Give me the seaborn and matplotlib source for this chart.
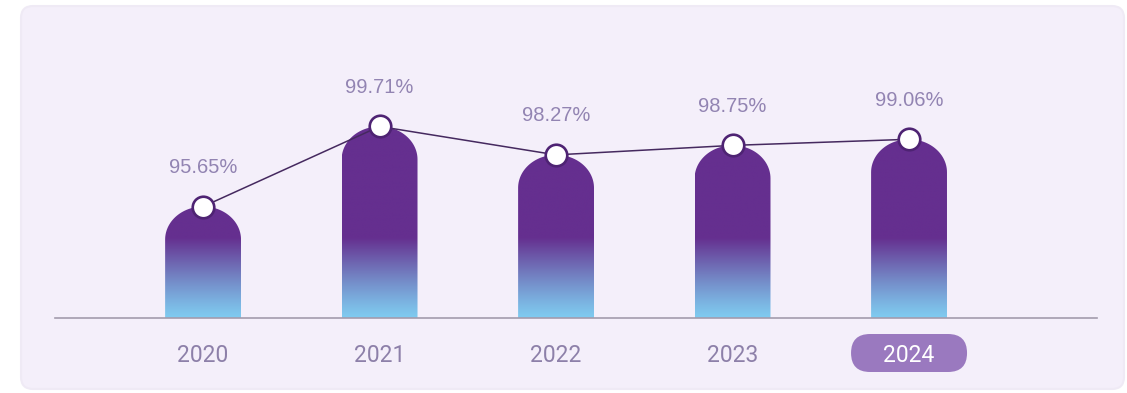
import numpy as np
import matplotlib
matplotlib.use("Agg")
import matplotlib.pyplot as plt
import seaborn as sns
from matplotlib.path import Path
from matplotlib.patches import PathPatch, FancyBboxPatch
from matplotlib.colors import to_rgb

# ---- data ----
years = ["2020", "2021", "2022", "2023", "2024"]
rates = [95.65, 99.71, 98.27, 98.75, 99.06]
highlight_year = "2024"

# ---- style ----
W, H = 1127, 393
PANEL = "#f4effa"
PURPLE = "#652f8f"
BLUE = "#7fcbf0"
LABEL_C = "#9284b2"
TICK_C = "#8d80a9"

sns.set_theme(style="white")
plt.rcParams["font.family"] = ["Liberation Sans", "DejaVu Sans"]

fig = plt.figure(figsize=(W / 100, H / 100), dpi=100)
fig.patch.set_facecolor("white")

# rounded card behind the chart
card = FancyBboxPatch((0.21, 0.04), 11.03, 3.83,
                      boxstyle="round,pad=0,rounding_size=0.12",
                      transform=fig.dpi_scale_trans, fc=PANEL, ec="#efeaf5",
                      lw=1.5, zorder=-2)
fig.patches.append(card)

ax_h_px = 288
ax = fig.add_axes([55 / W, 75 / H, 1042 / W, ax_h_px / H])
ax.patch.set_alpha(0)
ax.set_zorder(1)

y0, y1 = 90.0, 104.6
bar_w = 0.43
sns.barplot(x=years, y=rates, ax=ax, width=bar_w, color=PURPLE,
            saturation=1, zorder=1)
ax.set_xlim(-0.839, 5.065)
ax.set_ylim(y0, y1)

px_per_unit = ax_h_px / (y1 - y0)
dome_px = 33  # height of the rounded cap in pixels
ramp_px = 80  # height of the colour ramp at the foot of each bar

top_rgb = np.array(to_rgb(PURPLE))
bot_rgb = np.array(to_rgb(BLUE))

for patch in list(ax.patches):
    x0 = patch.get_x()
    w = patch.get_width()
    top = patch.get_height()
    patch.set_visible(False)
    xc = x0 + w / 2
    dome = dome_px / px_per_unit
    # rounded-top bar outline
    theta = np.linspace(np.pi, 0, 60)
    arc_x = xc + (w / 2) * np.cos(theta)
    arc_y = (top - dome) + dome * np.sin(theta)
    verts = [(x0, y0)] + list(zip(arc_x, arc_y)) + [(x0 + w, y0), (x0, y0)]
    codes = [Path.MOVETO] + [Path.LINETO] * (len(verts) - 2) + [Path.CLOSEPOLY]
    shape = PathPatch(Path(verts, codes), fc="none", ec="none")
    ax.add_patch(shape)
    # vertical gradient clipped to the outline
    ys = np.linspace(y0, top, 300)
    t = np.clip((ys - y0) * px_per_unit / ramp_px, 0, 1)
    t = t ** 1.15
    cols = bot_rgb[None, :] * (1 - t[:, None]) + top_rgb[None, :] * t[:, None]
    img = ax.imshow(cols[:, None, :], extent=[x0, x0 + w, y0, top],
                    origin="lower", aspect="auto", zorder=2,
                    interpolation="bilinear")
    img.set_clip_path(shape)

ax.set_xlim(-0.839, 5.065)
ax.set_ylim(y0, y1)

# trend line with markers on the bar tops
xs = np.arange(len(years))
ax.plot(xs, rates, color="#45295f", lw=1.1, zorder=3)
ax.plot(xs, rates, ls="none", marker="o", ms=15.5, mfc="white",
        mec="#4e2373", mew=1.9, zorder=4)

for x, r in zip(xs, rates):
    ax.annotate(f"{r:.2f}%", (x, r), xytext=(0, 39), textcoords="offset pixels",
                ha="center", va="center", fontsize=14.5, color=LABEL_C)

# axes cosmetics
for s in ["top", "right", "left"]:
    ax.spines[s].set_visible(False)
ax.spines["bottom"].set_color("#a39cad")
ax.spines["bottom"].set_linewidth(1.2)
ax.set_yticks([])
ax.set_xlabel("")
ax.set_ylabel("")
ax.tick_params(axis="x", length=0, pad=18.5)
for lab in ax.get_xticklabels():
    lab.set_fontfamily(["Roboto", "DejaVu Sans"])
    lab.set_fontsize(16.5)
    lab.set_color(TICK_C)
    if lab.get_text() == highlight_year:
        lab.set_color("white")

# pill behind the highlighted year
fig.canvas.draw()
hi = years.index(highlight_year)
xc_px = ax.transData.transform((hi, y0))[0]
pill_w, pill_h = 116, 38
pill_cy = 393 - 353
pill = FancyBboxPatch(((xc_px - pill_w / 2) / 100, (pill_cy - pill_h / 2) / 100),
                      pill_w / 100, pill_h / 100,
                      boxstyle="round,pad=0,rounding_size=0.19",
                      transform=fig.dpi_scale_trans, fc="#9a79bf", ec="none",
                      zorder=-1)
fig.patches.append(pill)

fig.savefig("out.png", dpi=100, facecolor=fig.get_facecolor())
